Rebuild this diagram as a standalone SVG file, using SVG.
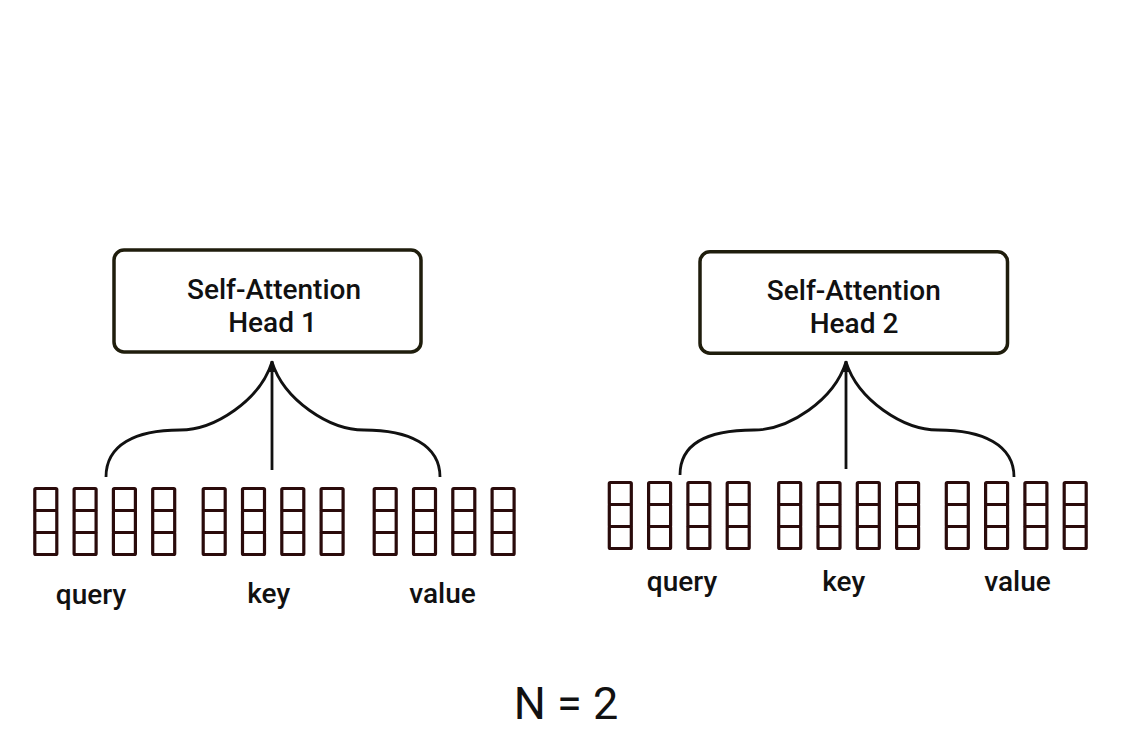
<svg xmlns="http://www.w3.org/2000/svg" xmlns:xlink="http://www.w3.org/1999/xlink" width="1148" height="742" viewBox="0 0 1148 742">
<style>
.box{fill:#ffffff;stroke:#1f1d0c;stroke-width:3.5}
.title{font-family:Roboto,"Liberation Sans",sans-serif;font-size:28px;font-weight:500;fill:#111;text-anchor:middle}
.lbl{font-family:Roboto,"Liberation Sans",sans-serif;font-size:28px;font-weight:500;fill:#111;text-anchor:middle}
.big{font-family:Roboto,"Liberation Sans",sans-serif;font-size:45px;font-weight:400;fill:#111;text-anchor:middle}
.cell{fill:#ffffff;stroke:#2a0b0b;stroke-width:3.2}
.conn{fill:none;stroke:#111;stroke-width:2.8}
</style>
<defs>
<g id="col">
<rect class="cell" x="0" y="0" width="22" height="22" rx="1"/>
<rect class="cell" x="0" y="22" width="22" height="22" rx="1"/>
<rect class="cell" x="0" y="44" width="22" height="22" rx="1"/>
</g>
<g id="grp">
<use xlink:href="#col" x="0" y="0"/>
<use xlink:href="#col" x="39.3" y="0"/>
<use xlink:href="#col" x="78.6" y="0"/>
<use xlink:href="#col" x="117.9" y="0"/>
</g>
<marker id="ah" viewBox="0 0 12 8" refX="11" refY="4" markerWidth="12" markerHeight="8" markerUnits="userSpaceOnUse" orient="auto">
<path d="M0,0.8 L12,4 L0,7.2 Z" fill="#111"/>
</marker>
</defs>
<rect width="1148" height="742" fill="#ffffff"/>

<g id="head1">
<rect class="box" x="114" y="250" width="307" height="102" rx="10"/>
<text class="title" x="274" y="298.5">Self-Attention</text>
<text class="title" x="272.5" y="332">Head 1</text>
</g>
<g id="head2">
<rect class="box" x="700" y="251.75" width="307.5" height="101.5" rx="10"/>
<text class="title" x="853.8" y="299.5">Self-Attention</text>
<text class="title" x="854" y="333.3">Head 2</text>
</g>

<g id="query1"><use xlink:href="#grp" x="34.8" y="488.5"/><text class="lbl" x="91" y="604">query</text></g>
<g id="key1"><use xlink:href="#grp" x="203.2" y="488.5"/><text class="lbl" x="268.7" y="603">key</text></g>
<g id="value1"><use xlink:href="#grp" x="374.2" y="488.5"/><text class="lbl" x="442.5" y="603">value</text></g>

<g id="query2"><use xlink:href="#grp" x="609.3" y="482.5"/><text class="lbl" x="682" y="591">query</text></g>
<g id="key2"><use xlink:href="#grp" x="778.7" y="482.5"/><text class="lbl" x="843.7" y="591">key</text></g>
<g id="value2"><use xlink:href="#grp" x="946.3" y="482.5"/><text class="lbl" x="1017.5" y="591">value</text></g>

<g id="connectors">
<path class="conn" d="M272,470 L272,361" marker-end="url(#ah)"/>
<path class="conn" d="M106,477 C106,445 135,430 180,430 C215,430 260,400 272,362"/>
<path class="conn" d="M272,362 C284,400 329,430 364,430 C409,430 440,445 440,477"/>
<path class="conn" d="M846,469 L846,361" marker-end="url(#ah)"/>
<path class="conn" d="M680,475 C680,443 709,430 754,430 C789,430 834,400 846,362"/>
<path class="conn" d="M846,362 C858,400 903,430 938,430 C983,430 1014,445 1014,477"/>
</g>

<g id="nlabel">
<text class="big" x="566" y="719">N = 2</text>
</g>
</svg>
